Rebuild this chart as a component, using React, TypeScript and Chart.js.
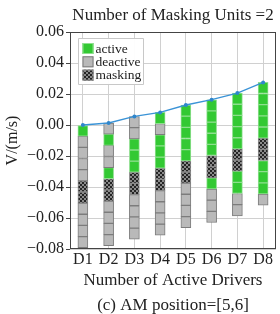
import React, { useEffect, useRef } from "react";
import { Chart, registerables } from "chart.js";

Chart.register(...registerables);

const drivers = ["D1", "D2", "D3", "D4", "D5", "D6", "D7", "D8"];
const velocity = [0.0, 0.0013, 0.0055, 0.0081, 0.0129, 0.0163, 0.0206, 0.0275];
// unit states from top to bottom: A = active, D = deactive, M = masking
const unitStates = [
  "ADDDDMMDDDD",
  "DADDAMMDDDD",
  "DDAAAMMDDDD",
  "ADAAAMMDDDD",
  "AAAAAMMDDDD",
  "AAAAAMMADDD",
  "AAAAAMMAADD",
  "AAAAAMMAAAD",
];
const unitHeight = 0.0072;
const yTicks = [0.06, 0.04, 0.02, 0.0, -0.02, -0.04, -0.06, -0.08];
const legendLabels = ["active", "deactive", "masking"];
const legendStates = ["A", "D", "M"];

const titleText = "Number of Masking Units =2";
const xTitle = "Number of Active Drivers";
const yTitle = "V/(m/s)";
const caption = "(c) AM position=[5,6]";

const FONT = "'Liberation Serif', 'Times New Roman', serif";

function makeMaskPattern(): CanvasPattern | string {
  const c = document.createElement("canvas");
  c.width = 4;
  c.height = 4;
  const g = c.getContext("2d");
  if (!g) return "#444";
  g.fillStyle = "#8a8a8a";
  g.fillRect(0, 0, 4, 4);
  g.fillStyle = "#252525";
  g.fillRect(0, 0, 2, 2);
  g.fillRect(2, 2, 2, 2);
  const p = g.createPattern(c, "repeat");
  return p || "#444";
}

export default function App() {
  const ref = useRef<HTMLCanvasElement | null>(null);

  useEffect(() => {
    if (!ref.current) return;
    const mask = makeMaskPattern();
    const fills: Record<string, any> = { A: "#33c933", D: "#b9b9b9", M: mask };
    const borders: Record<string, string> = { A: "#8fdf8f", D: "#7c7c7c", M: "#8a8a8a" };

    const nUnits = unitStates[0].length;
    const barSets: any[] = [];
    for (let k = 0; k < nUnits; k++) {
      barSets.push({
        type: "bar",
        label: "unit" + k,
        data: drivers.map((_, i) => [velocity[i] - (k + 1) * unitHeight, velocity[i] - k * unitHeight]),
        backgroundColor: drivers.map((_, i) => fills[unitStates[i][k]]),
        borderColor: drivers.map((_, i) => borders[unitStates[i][k]]),
        borderWidth: 1,
        borderSkipped: false,
        grouped: false,
        barThickness: 10,
        order: 2,
      });
    }

    const frameAndLegend = {
      id: "frameAndLegend",
      afterDraw(chart: any) {
        const { ctx, chartArea } = chart;
        ctx.save();
        ctx.strokeStyle = "#444";
        ctx.lineWidth = 1;
        ctx.strokeRect(
          Math.round(chartArea.left) + 0.5,
          Math.round(chartArea.top) + 0.5,
          Math.round(chartArea.right - chartArea.left) - 1,
          Math.round(chartArea.bottom - chartArea.top) - 1
        );
        // legend box
        const lx = Math.round(chartArea.left) + 8.5;
        const ly = Math.round(chartArea.top) + 6.5;
        const lw = 65;
        const lh = 46;
        ctx.fillStyle = "rgba(255,255,255,0.95)";
        ctx.strokeStyle = "#c8c8c8";
        ctx.beginPath();
        ctx.rect(lx, ly, lw, lh);
        ctx.fill();
        ctx.stroke();
        ctx.font = "13.5px " + FONT;
        ctx.textBaseline = "middle";
        ctx.textAlign = "left";
        legendLabels.forEach((lab, j) => {
          const cy = ly + 10 + j * 13.3;
          const st = legendStates[j];
          ctx.fillStyle = fills[st];
          ctx.fillRect(lx + 4, cy - 5.5, 11, 11);
          ctx.strokeStyle = borders[st];
          ctx.strokeRect(lx + 4.5, cy - 5, 10, 10);
          ctx.fillStyle = "#222";
          ctx.fillText(lab, lx + 17, cy + 0.5);
        });
        ctx.restore();
      },
    };

    const chart = new Chart(ref.current, {
      type: "bar",
      data: {
        labels: drivers,
        datasets: [
          {
            type: "line",
            label: "V",
            data: velocity,
            borderColor: "#3a93d6",
            backgroundColor: "#2f86cc",
            borderWidth: 1.3,
            pointRadius: 2,
            pointBorderWidth: 0,
            tension: 0,
            order: 0,
          } as any,
          ...barSets,
        ],
      },
      options: {
        responsive: false,
        animation: false,
        devicePixelRatio: 1,
        layout: { padding: { left: 0, right: 1, top: 0, bottom: 0 } },
        font: { family: FONT },
        plugins: {
          legend: { display: false },
          tooltip: { enabled: false },
          title: {
            display: true,
            text: titleText,
            fullSize: false,
            color: "#222",
            font: { family: FONT, size: 17, weight: "normal" },
            padding: { top: 5, bottom: 6.6 },
          },
          subtitle: {
            display: true,
            text: caption,
            position: "bottom",
            fullSize: false,
            color: "#222",
            font: { family: FONT, size: 17, weight: "normal", lineHeight: 1.0 },
            padding: { top: 0, bottom: 0 },
          },
        },
        scales: {
          x: {
            type: "category",
            offset: true,
            grid: { offset: false, color: "#d0d0d0", drawTicks: false },
            border: { display: false },
            ticks: { color: "#222", font: { family: FONT, size: 16 }, padding: 1, maxRotation: 0, autoSkip: false },
            title: {
              display: true,
              text: xTitle,
              color: "#222",
              font: { family: FONT, size: 17 },
              padding: { top: 0, bottom: 6 },
            },
            afterFit(scale: any) {
              scale.height = 48;
            },
          },
          y: {
            min: -0.08,
            max: 0.06,
            grid: { color: "#d0d0d0", tickLength: 4, tickColor: "#444" },
            border: { display: false },
            afterBuildTicks(scale: any) {
              scale.ticks = yTicks.map((v) => ({ value: v }));
            },
            ticks: {
              color: "#222",
              font: { family: FONT, size: 16 },
              padding: 2,
              callback: (v: any) => {
                const n = Number(v);
                if (Math.abs(n) < 1e-9) return "0.00";
                const s = Math.abs(n).toFixed(2);
                return n < 0 ? "\u2212" + s : s;
              },
            },
            title: {
              display: true,
              text: yTitle,
              color: "#222",
              font: { family: FONT, size: 16 },
              padding: { top: 3, bottom: 0 },
            },
            afterFit(scale: any) {
              scale.width = 70;
            },
          },
        },
      },
      plugins: [frameAndLegend],
    } as any);

    return () => chart.destroy();
  }, []);

  return (
    <div style={{ position: "fixed", left: 0, top: 0, width: 280, height: 314, background: "#fff" }}>
      <canvas ref={ref} width={280} height={314} style={{ display: "block", width: 280, height: 314 }} />
    </div>
  );
}
